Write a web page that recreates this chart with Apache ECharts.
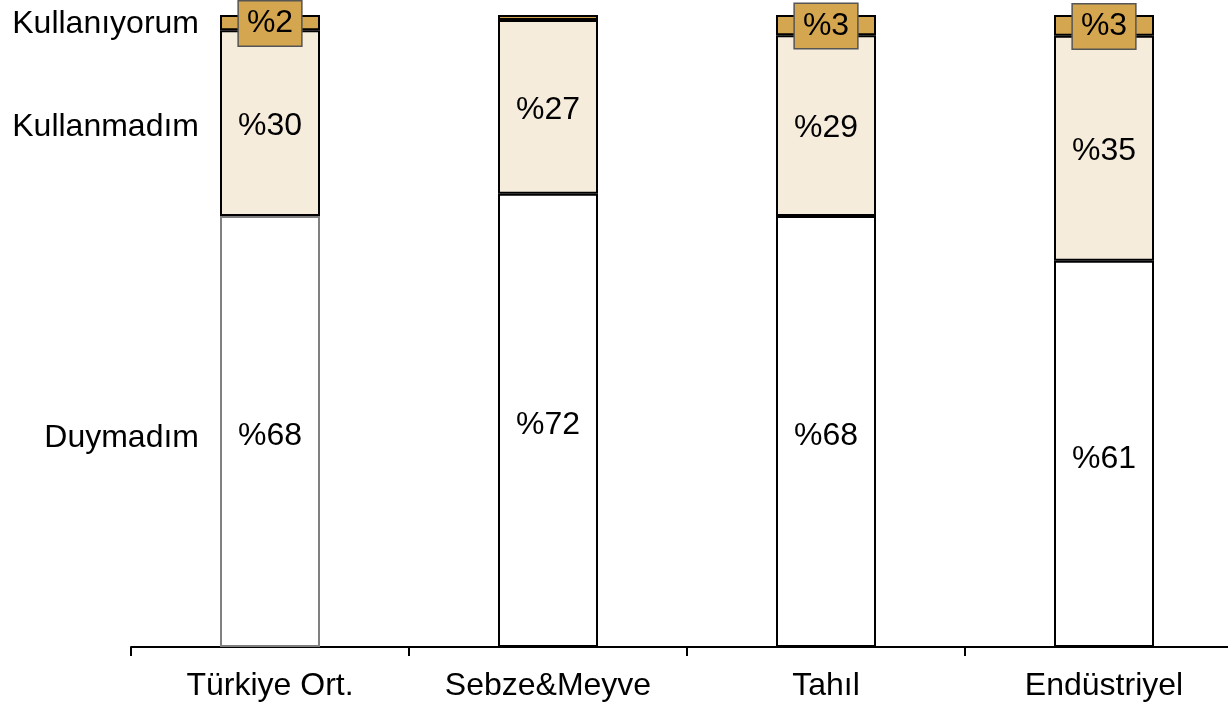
<!DOCTYPE html>
<html><head><meta charset="utf-8">
<script src="https://cdn.jsdelivr.net/npm/echarts@6/dist/echarts.min.js"></script>
<style>html,body{margin:0;padding:0;background:#fff;overflow:hidden}#c{width:1243px;height:710px}</style>
</head><body><div id="c"></div>
<script>
const categories = ['Türkiye Ort.', 'Sebze&Meyve', 'Tahıl', 'Endüstriyel'];
const seriesNames = ['Duymadım', 'Kullanmadım', 'Kullanıyorum'];
const duymadim = [68.2, 71.7, 68.2, 61.1];
const kullanmadim = [29.4, 27.5, 28.6, 35.6];
const kullaniyorum = [2.4, 0.8, 3.2, 3.3];
const duymadimLabels = ['%68', '%72', '%68', '%61'];
const kullanmadimLabels = ['%30', '%27', '%29', '%35'];
const kullaniyorumLabels = ['%2', '', '%3', '%3'];

const FONT = '"Liberation Sans", Arial, sans-serif';
const GOLD = '#D5A650';
const BEIGE = '#F6ECDC';
const FS = 32;

function mk(vals, labels, borderColors) {
  return vals.map((v, i) => ({
    value: v,
    itemStyle: { borderColor: borderColors ? borderColors[i] : '#000' },
    label: { show: labels[i] !== '' }
  }));
}

const leftLabelY = [
  duymadim[0] / 2,
  duymadim[0] + kullanmadim[0] / 2,
  duymadim[0] + kullanmadim[0] + kullaniyorum[0] / 2
];
const leftLabelOffset = [[0, 7], [0, 4], [0, 2]];

const chart = echarts.init(document.getElementById('c'));
chart.setOption({
  animation: false,
  textStyle: { fontFamily: FONT },
  grid: { left: 131, top: 15, right: 0, bottom: 63 },
  xAxis: {
    type: 'category', data: categories,
    axisLine: { lineStyle: { color: '#000', width: 2 } },
    axisTick: { show: true, length: 9, lineStyle: { color: '#000', width: 2 } },
    axisLabel: { color: '#000', fontSize: FS, fontFamily: FONT, margin: 23 }
  },
  yAxis: { type: 'value', min: 0, max: 100, show: false, splitLine: { show: false } },
  series: [
    {
      name: seriesNames[0], type: 'bar', stack: 's', barWidth: 100,
      data: mk(duymadim, duymadimLabels, ['#808080', '#000', '#000', '#000']),
      itemStyle: { color: '#fff', borderWidth: 2 },
      label: { show: true, position: 'inside', offset: [0, 5], color: '#000', fontSize: FS, fontFamily: FONT,
        formatter: p => duymadimLabels[p.dataIndex] }
    },
    {
      name: seriesNames[1], type: 'bar', stack: 's', barWidth: 100,
      data: mk(kullanmadim, kullanmadimLabels),
      itemStyle: { color: BEIGE, borderWidth: 2 },
      label: { show: true, position: 'inside', offset: [0, 3], color: '#000', fontSize: FS, fontFamily: FONT,
        formatter: p => kullanmadimLabels[p.dataIndex] }
    },
    {
      name: seriesNames[2], type: 'bar', stack: 's', barWidth: 100,
      data: mk(kullaniyorum, kullaniyorumLabels),
      itemStyle: { color: GOLD, borderWidth: 2 },
      label: { show: true, position: 'inside', offset: [0, 1], color: '#000', fontSize: FS, fontFamily: FONT,
        backgroundColor: GOLD, borderColor: '#555', borderWidth: 1.5,
        padding: [7, 8, 5, 8],
        formatter: p => kullaniyorumLabels[p.dataIndex] }
    },
    {
      type: 'scatter', symbolSize: 0, silent: true, z: 10,
      itemStyle: { color: '#000', opacity: 1 },
      data: leftLabelY.map((y, i) => ({ value: [categories[0], y], name: seriesNames[i],
        label: { offset: leftLabelOffset[i] } })),
      label: { show: true, position: 'left', distance: 71, color: '#000',
        fontSize: FS, fontFamily: FONT, formatter: p => p.name }
    }
  ]
});
</script></body></html>
